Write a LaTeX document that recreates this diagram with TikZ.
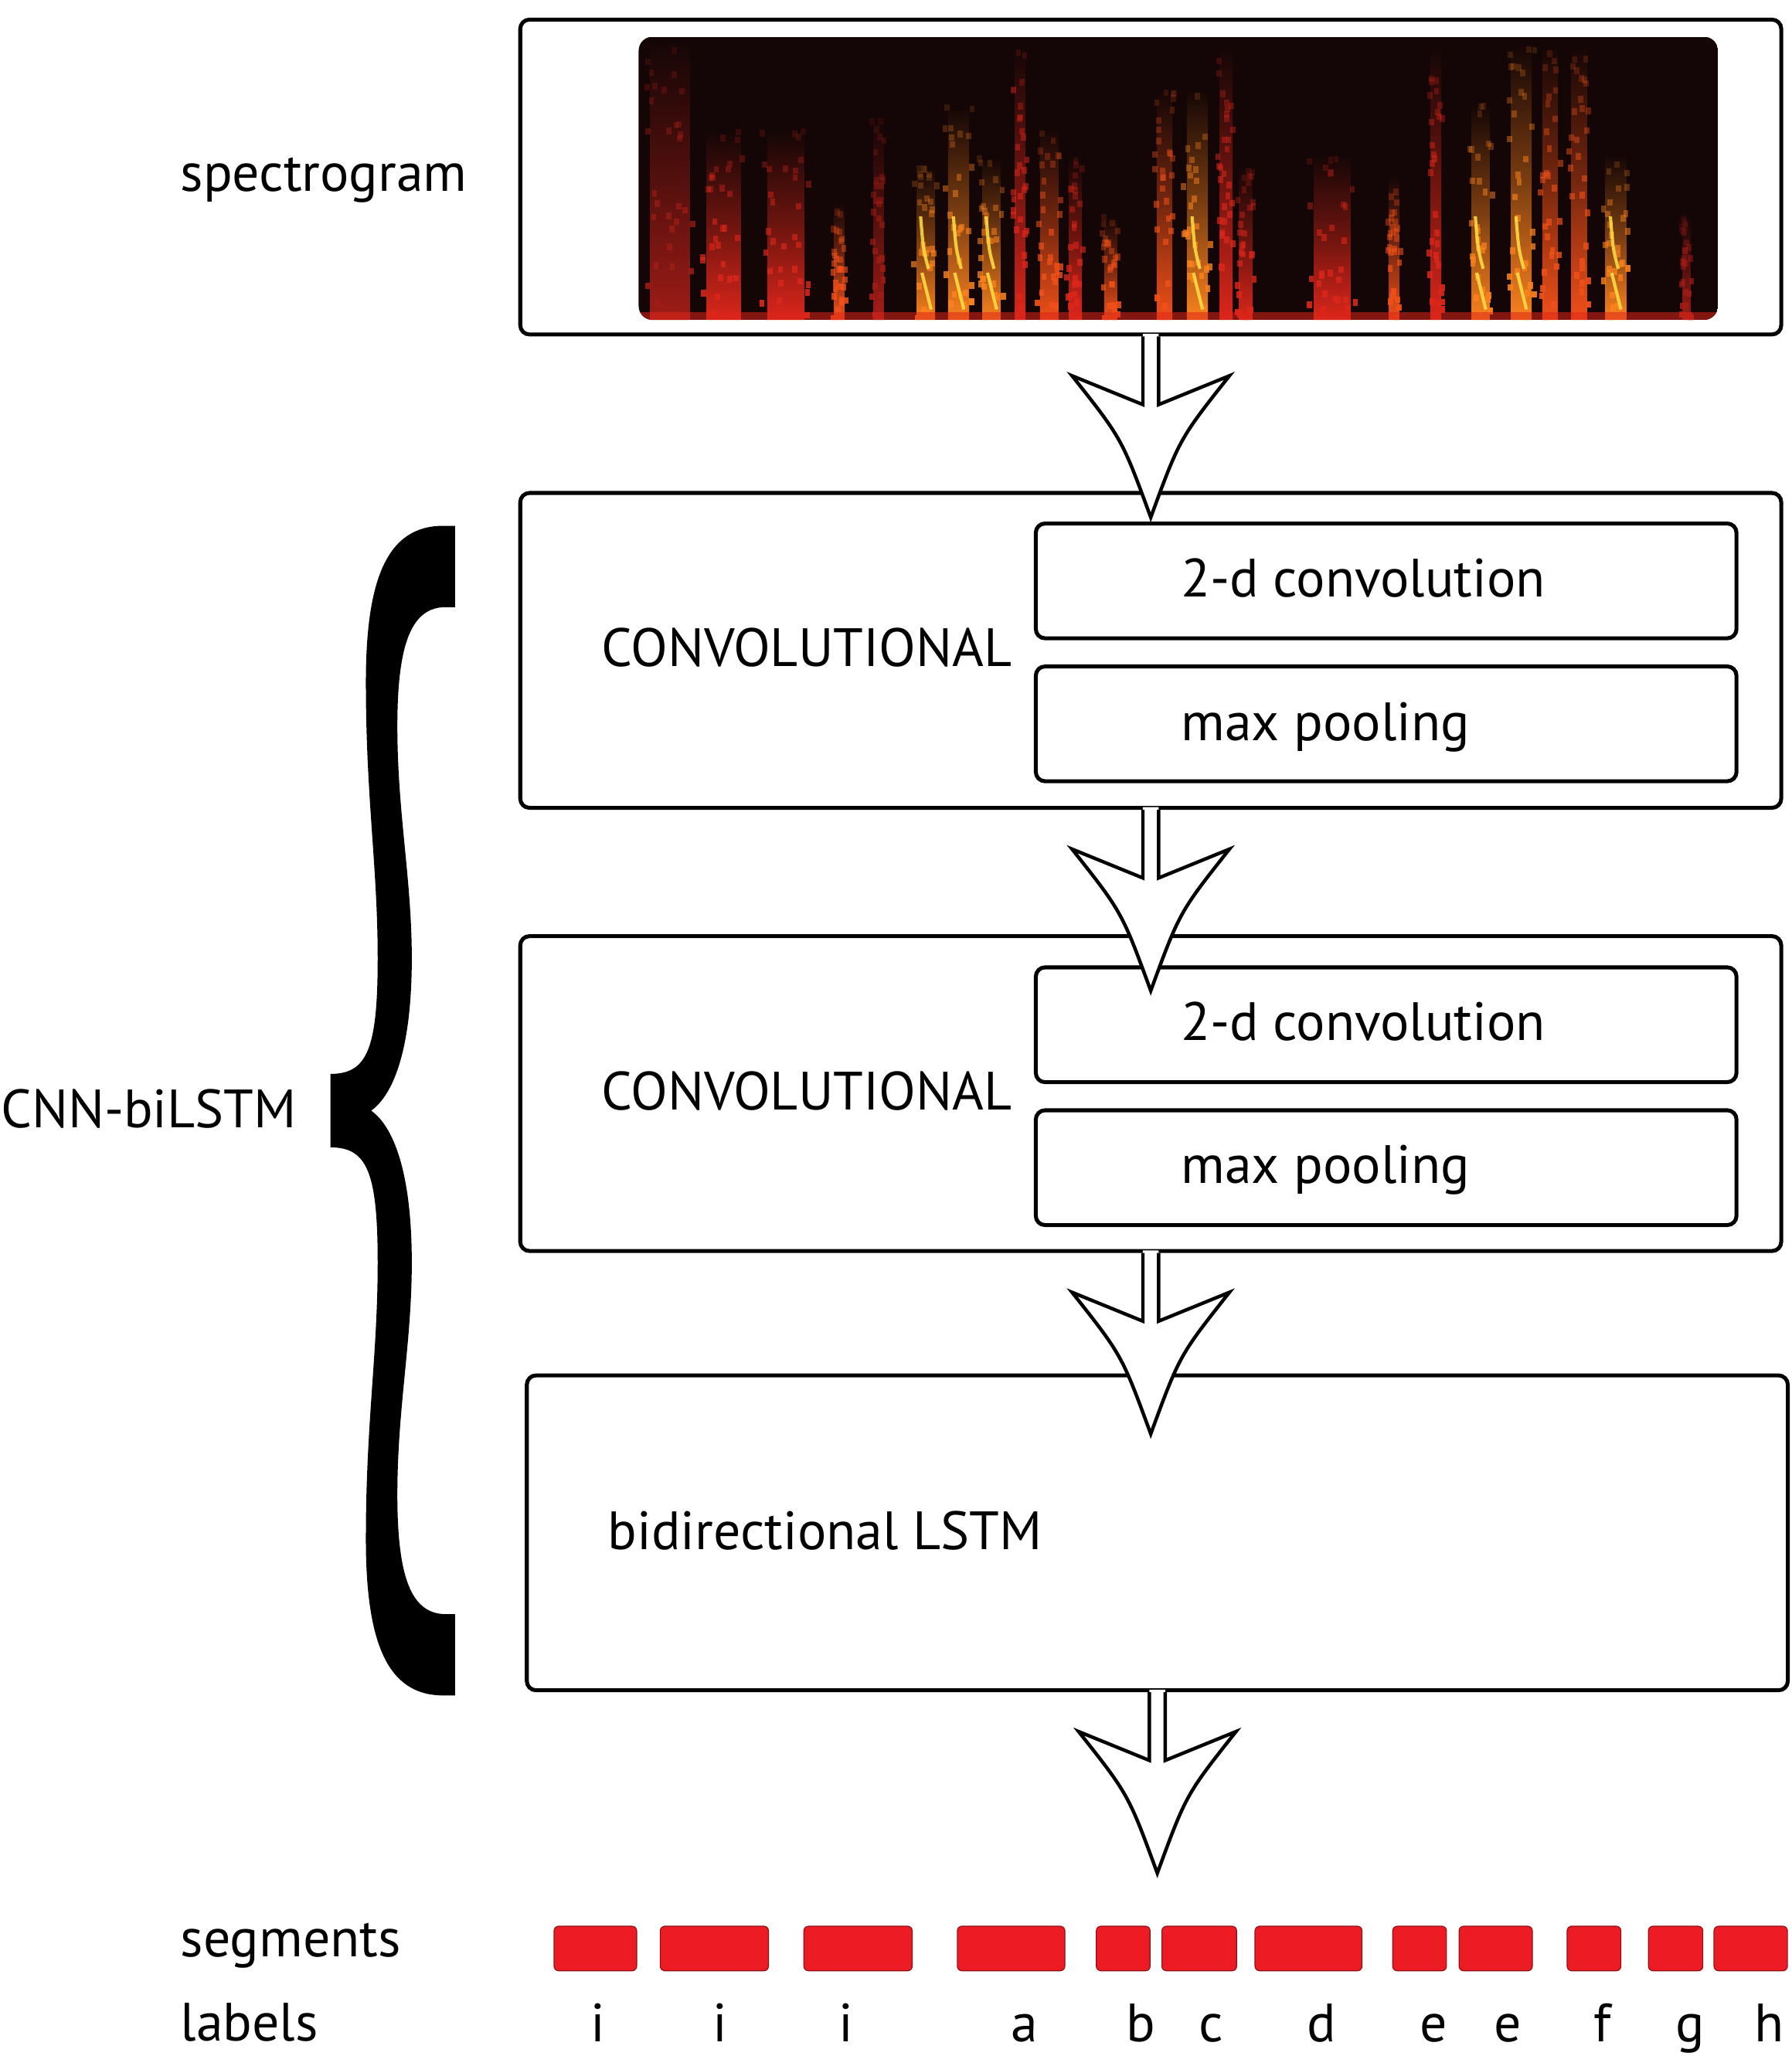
\documentclass[tikz,border=0pt]{standalone}
\usepackage{fontspec}
\setmainfont{PT Sans}
\definecolor{specbg}{RGB}{20,6,6}
\definecolor{specdim}{RGB}{160,28,22}
\definecolor{specred}{RGB}{220,38,26}
\definecolor{specorange}{RGB}{240,80,25}
\definecolor{specbright}{RGB}{250,130,30}
\definecolor{specyellow}{RGB}{255,225,70}
\definecolor{segred}{RGB}{237,28,36}
\tikzset{
  box/.style={draw, line width=0.85pt, rounded corners=2pt, inner sep=0pt},
  txt/.style={anchor=base west, inner sep=0pt},
  segbox/.style={fill=segred, draw=segred!60!black, line width=0.2pt, rounded corners=1pt,
    inner sep=0pt, minimum height=0.34cm},
  fatarrow/.pic={
    \fill[white] (-6,-2) -- (-6,52) -- (-60,30) .. controls (-22,78) .. (0,138)
      .. controls (22,78) .. (60,30) -- (6,52) -- (6,-2) -- cycle;
    \draw[line width=0.75pt, line join=miter] (-6,0) -- (-6,52) -- (-60,30)
      .. controls (-22,78) .. (0,138) .. controls (22,78) .. (60,30) -- (6,52) -- (6,0);
  }
}
\begin{document}
\begin{tikzpicture}[x=0.01cm, y=-0.01cm, font=\fontsize{11.7}{14}\selectfont]
\useasboundingbox (0,0) rectangle (1366,1568);

\node[box, minimum width=9.61cm, minimum height=2.40cm] (spec) at (877.5,135) {};
\begin{scope}
  \pgfmathsetseed{11}
  \clip[rounded corners=3pt] (487,28) rectangle (1310,244);
  \fill[specbg] (487,28) rectangle (1310,244);
  \foreach \x/\w/\t/\c in {511/30/30/specdim, 552/26/100/specred, 599/28/100/specred,
      640/8/155/specorange, 670/8/90/specdim, 706/14/128/specbright, 731/16/82/specbright,
      756/14/120/specbright, 778/8/35/specred, 800/14/98/specorange, 820/10/120/specred,
      847/10/165/specorange, 888/12/69/specorange, 913/16/69/specbright, 935/10/35/specred,
      950/10/128/specred, 1016/28/118/specred, 1063/8/134/specorange, 1095/8/35/specred,
      1129/14/80/specbright, 1160/16/35/specbright, 1182/12/35/specorange,
      1204/12/35/specorange, 1232/16/118/specbright, 1286/6/165/specdim} {
    \shade[top color=specbg, bottom color=\c, middle color=\c!45!specbg]
      (\x-\w/2,\t) rectangle (\x+\w/2,244);
    \foreach \k in {1,...,30} {
      \pgfmathsetmacro{\yy}{\t+rnd*(244-\t)}
      \pgfmathsetmacro{\xx}{\x+(rnd-0.5)*\w*1.3}
      \pgfmathsetmacro{\op}{0.15+0.85*(\yy-\t)/(244-\t)}
      \fill[\c, opacity=\op] (\xx-2,\yy-2.5) rectangle (\xx+2,\yy+2.5);
    }
  }
  \foreach \x in {706,731,756,913,1129,1160,1232} {
    \draw[specyellow, line width=0.7pt, opacity=0.85] (\x-4,165) .. controls (\x-2,190) .. (\x+2,205);
    \draw[specyellow, line width=0.7pt, opacity=0.85] (\x-3,208) .. controls (\x,222) .. (\x+4,236);
  }
  \fill[specred, opacity=0.55] (487,238) rectangle (1310,244);
\end{scope}

\node[box, minimum width=9.61cm, minimum height=2.40cm] (conva) at (877.5,496) {};
\node[box, minimum width=5.34cm, minimum height=0.875cm] (cda) at (1057,443) {};
\node[box, minimum width=5.34cm, minimum height=0.875cm] (poola) at (1057,552) {};
\node[box, minimum width=9.61cm, minimum height=2.40cm] (convb) at (877.5,834) {};
\node[box, minimum width=5.34cm, minimum height=0.875cm] (cdb) at (1057,781.5) {};
\node[box, minimum width=5.34cm, minimum height=0.875cm] (poolb) at (1057,890.5) {};
\node[box, minimum width=9.61cm, minimum height=2.40cm] (lstm) at (882.5,1169) {};

\node[txt] (spectxt) at (137,146) {spectrogram};
\node[txt] (convatxt) at (458,508.5) {CONVOLUTIONAL};
\node[txt] (cdatxt) at (900,455.3) {2-d convolution};
\node[txt] (poolatxt) at (900,564.7) {max pooling};
\node[txt] (convbtxt) at (458,846.5) {CONVOLUTIONAL};
\node[txt] (cdbtxt) at (900,793.3) {2-d convolution};
\node[txt] (poolbtxt) at (900,902.7) {max pooling};
\node[txt] (lstmtxt) at (463,1181.5) {bidirectional LSTM};
\node[txt] (cnntxt) at (0,860) {CNN-biLSTM};
\node[txt] (segtxt) at (137,1492) {segments};
\node[txt] (labtxt) at (137,1556.7) {labels};

\fill (347,401) -- (338,401) .. controls (296,401) and (279,440) .. (279,520)
  .. controls (279,610) and (288,660) .. (288,731) .. controls (288,800) and (280,819) .. (252,819)
  -- (252,875) .. controls (280,875) and (288,894) .. (288,963)
  .. controls (288,1034) and (279,1084) .. (279,1174) .. controls (279,1254) and (296,1293) .. (338,1293)
  -- (347,1293) -- (347,1231) -- (340,1231) .. controls (314,1231) and (303,1204) .. (303,1140)
  .. controls (303,1074) and (314,1024) .. (314,963) .. controls (314,894) and (300,859) .. (283,847)
  .. controls (300,835) and (314,800) .. (314,731) .. controls (314,670) and (303,620) .. (303,554)
  .. controls (303,490) and (314,463) .. (340,463) -- (347,463) -- cycle;

\foreach \a/\b [count=\i] in {422.5/485.5, 503.5/586, 613/695.6, 730/812, 836/877, 886/943,
    957/1038.6, 1062/1103, 1112.6/1168.5, 1195/1236, 1257/1298.5, 1307/1363}
  \node[segbox, minimum width={(\b-\a)*0.01cm}] (seg\i) at ({(\a+\b)/2},1486) {};
\foreach \x/\l [count=\i] in {456/i, 549/i, 645/i, 781/a, 870/b, 923.5/c, 1008/d, 1093/e,
    1150/e, 1222/f, 1289/g, 1349/h}
  \node[anchor=base, inner sep=0pt] (lab\i) at (\x,1557) {\l};

\pic at (spec.south) {fatarrow};
\pic at (conva.south) {fatarrow};
\pic at (convb.south) {fatarrow};
\pic at (lstm.south) {fatarrow};
\end{tikzpicture}
\end{document}
